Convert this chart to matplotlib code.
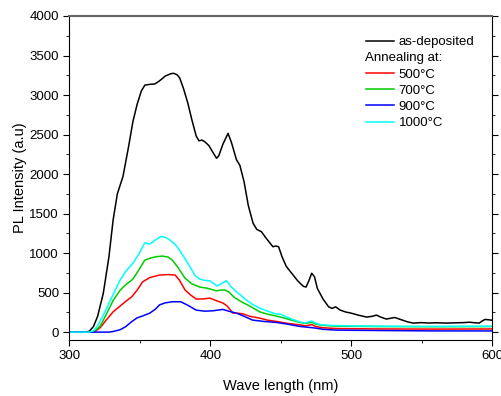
import matplotlib.pyplot as plt
from matplotlib.lines import Line2D
from matplotlib.ticker import MultipleLocator

plt.rcParams['font.family'] = ['Liberation Sans', 'DejaVu Sans']

# as-deposited
wl_dep = [300, 310, 314, 317, 320, 324, 328, 331, 334, 338, 342, 345, 348, 351, 353.5, 357, 360.6, 364,
          368, 372, 374, 376.5, 378.3, 381, 384, 387, 390, 392, 394, 396, 399, 402, 404.4, 406, 409, 412.6,
          415, 418.6, 421, 424, 427, 430.4, 433, 436.3, 440, 444.5, 446.5, 448.5, 451, 454, 458, 462, 466,
          468, 470, 472, 474, 476, 480, 484, 486.5, 489, 492, 496, 500, 505, 511, 515, 518, 521, 525, 528,
          531, 535, 540, 544, 550, 555, 560, 567, 575, 580, 584, 588, 591, 593, 595, 598, 600]
pl_dep = [0, 0, 10, 70, 200, 490, 950, 1420, 1750, 1970, 2350, 2660, 2880, 3050, 3125, 3135, 3140, 3180,
          3240, 3270, 3275, 3255, 3215, 3080, 2900, 2680, 2480, 2420, 2430, 2410, 2360, 2270, 2200, 2230, 2380, 2515,
          2400, 2180, 2110, 1900, 1600, 1376, 1300, 1270, 1180, 1080, 1090, 1080, 950, 830, 740, 650, 580,
          570, 650, 745, 700, 553, 420, 320, 300, 320, 280, 255, 240, 215, 190, 200, 215, 190, 165, 175,
          185, 160, 130, 114, 120, 115, 118, 114, 118, 120, 125, 118, 114, 140, 160, 155, 150]

# 500 °C
wl_500 = [300, 316, 318, 322, 326, 331, 336, 340, 344, 348, 352, 357, 364, 370, 375, 378, 382, 386, 390,
          395, 399.6, 404, 409, 412, 416, 420, 423, 428, 435, 441, 447, 455, 463.5, 468, 472, 475, 480, 490,
          520, 560, 600]
pl_500 = [0, 0, 5, 60, 150, 257, 330, 390, 443, 530, 637, 690, 722, 728, 722, 660, 535, 470, 418,
          420, 430, 400, 367, 330, 240, 238, 232, 200, 177, 150, 135, 110, 92, 80, 95, 70, 55, 45,
          40, 38, 40]

# 700 °C
wl_700 = [300, 315, 318, 322, 326, 331, 336, 340, 345, 349, 353.5, 358, 362, 366, 370, 373, 377, 382, 387,
          392.5, 398, 404, 407, 410, 413, 417, 422, 428, 435, 441, 447, 452, 458, 463.5, 468, 472, 475, 480,
          490, 520, 560, 600]
pl_700 = [0, 0, 15, 80, 220, 400, 532, 600, 670, 780, 911, 940, 955, 962, 950, 911, 820, 683, 610,
          570, 555, 523, 530, 535, 510, 440, 384, 330, 257, 225, 203, 180, 150, 122, 110, 125, 100, 85,
          75, 70, 68, 70]

# 900 °C
wl_900 = [300, 328, 331, 336, 340, 344, 348, 352, 357, 361, 364, 368, 373, 379, 384, 390, 396, 402, 406,
          409, 413, 418.6, 424, 430, 438, 447, 455, 463.5, 470, 475, 480, 490, 520, 560, 600]
pl_900 = [0, 0, 8, 30, 70, 130, 180, 205, 240, 290, 345, 370, 384, 384, 340, 278, 265, 270, 280,
          287, 265, 240, 200, 152, 135, 122, 100, 72, 60, 50, 35, 25, 20, 15, 15]

# 1000 °C
wl_1000 = [300, 314, 317, 320, 325, 330, 336, 340, 345, 349, 353.5, 357, 361, 365, 368, 371, 375, 378, 382,
           385.5, 389, 392.5, 396, 399.6, 402, 405, 408, 411.5, 415, 418.6, 422, 425.7, 430, 435, 440, 444,
           447, 450, 455, 460, 463.5, 467, 470, 472, 474, 478, 485, 500, 520, 550, 600]
pl_1000 = [0, 0, 15, 80, 250, 440, 660, 770, 870, 980, 1130, 1115, 1165, 1210, 1200, 1170, 1110, 1040, 930,
           827, 720, 670, 655, 650, 620, 584, 615, 650, 570, 510, 460, 405, 350, 304, 270, 245,
           230, 225, 185, 150, 130, 115, 130, 140, 120, 95, 85, 78, 75, 72, 75]

fig = plt.figure(figsize=(5.02, 3.96), dpi=100)
ax = fig.add_axes([0.1384, 0.1414, 0.8416, 0.8182])

ax.plot(wl_dep, pl_dep, color='black', lw=1.1)
ax.plot(wl_500, pl_500, color='#ff0000', lw=1.1)
ax.plot(wl_700, pl_700, color='#00cc00', lw=1.1)
ax.plot(wl_900, pl_900, color='#0000ff', lw=1.1)
ax.plot(wl_1000, pl_1000, color='#00ffff', lw=1.1)

ax.set_xlim(300, 600)
ax.set_ylim(-100, 4000)
ax.xaxis.set_major_locator(MultipleLocator(100))
ax.xaxis.set_minor_locator(MultipleLocator(50))
ax.yaxis.set_major_locator(MultipleLocator(500))
ax.yaxis.set_minor_locator(MultipleLocator(250))
ax.tick_params(which='both', direction='out', labelsize=9.5, right=True, top=False)
ax.tick_params(which='major', length=4)
ax.tick_params(which='minor', length=2.5)
ax.spines['top'].set_color('#666666')
ax.spines['top'].set_linewidth(1.5)

ax.set_xlabel('Wave length (nm)', fontsize=10.5, labelpad=12)
ax.set_ylabel('PL Intensity (a.u)', fontsize=10.5, labelpad=2)

handles = [Line2D([], [], color='black', lw=1.1),
           Line2D([], [], color='none'),
           Line2D([], [], color='#ff0000', lw=1.1),
           Line2D([], [], color='#00cc00', lw=1.1),
           Line2D([], [], color='#0000ff', lw=1.1),
           Line2D([], [], color='#00ffff', lw=1.1)]
labels = ['as-deposited', 'Annealing at:', '500°C', '700°C', '900°C', '1000°C']
leg = ax.legend(handles, labels, loc='upper right', bbox_to_anchor=(0.99, 0.975), frameon=False,
                fontsize=9.5, handlelength=2.1, handletextpad=0.35, labelspacing=0.3)
# "Annealing at:" starts at the handle edge like the original
leg.get_texts()[1].set_position((-34, 0))

fig.savefig('out.png', dpi=100)
